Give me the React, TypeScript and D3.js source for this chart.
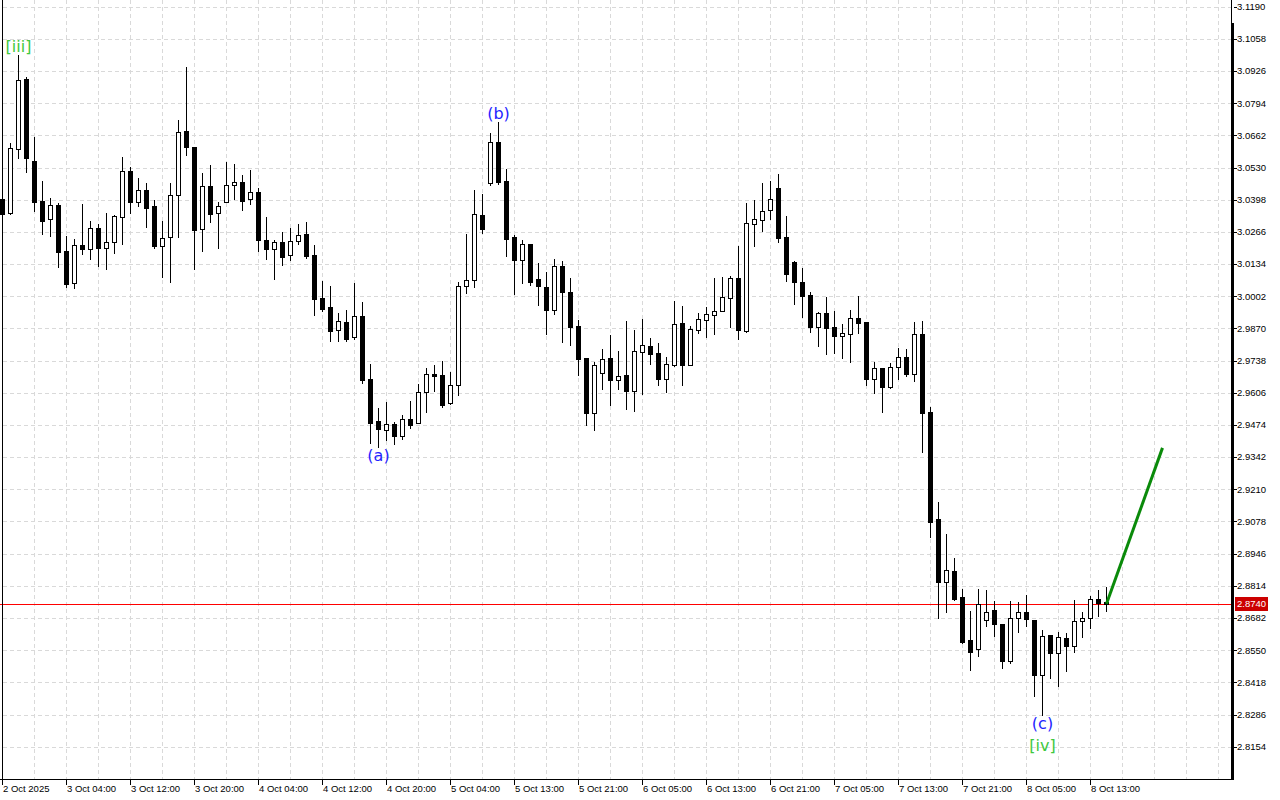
import React, { useEffect } from "react";
import * as d3 from "d3";

// ---------- data (hourly candles, 2 Oct 20:00 -> 8 Oct 15:00) ----------
const opens = [
  3.0401, 3.0343, 3.0606, 3.0893, 3.0557, 3.0392, 3.0319, 3.0376, 3.0187, 3.0056,
  3.0212, 3.0196, 3.0282, 3.0200, 3.0224, 3.0327, 3.0516, 3.0388, 3.0438, 3.0372,
  3.0208, 3.0245, 3.0417, 3.0680, 3.0614, 3.0278, 3.0454, 3.0343, 3.0388, 3.0458,
  3.0470, 3.0401, 3.0429, 3.0232, 3.0196, 3.0224, 3.0171, 3.0228, 3.0257, 3.0171,
  2.9995, 2.9958, 2.9863, 2.9896, 2.9834, 2.9921, 2.9662, 2.9490, 2.9453, 2.9478,
  2.9428, 2.9498, 2.9482, 2.9609, 2.9683, 2.9679, 2.9564, 2.9638, 3.0044, 3.0068,
  3.0335, 3.0466, 3.0635, 3.0475, 3.0245, 3.0150, 3.0216, 3.0072, 3.0040, 2.9945,
  3.0126, 3.0019, 2.9880, 2.9748, 2.9523, 2.9687, 2.9748, 2.9658, 2.9679, 2.9613,
  2.9773, 2.9798, 2.9769, 2.9662, 2.9720, 2.9892, 2.9720, 2.9863, 2.9904, 2.9925,
  2.9941, 2.9995, 3.0077, 2.9859, 3.0298, 3.0314, 3.0356, 3.0446, 3.0245, 3.0142,
  3.0060, 3.0007, 2.9876, 2.9933, 2.9876, 2.9839, 2.9847, 2.9912, 2.9896, 2.9662,
  2.9707, 2.9629, 2.9711, 2.9752, 2.9683, 2.9847, 2.9527, 2.9088, 2.8829, 2.8874,
  2.8768, 2.8591, 2.8554, 2.8673, 2.8714, 2.8657, 2.8505, 2.8682, 2.8706, 2.8673,
  2.8448, 2.8612, 2.8538, 2.8600, 2.8567, 2.8669, 2.8682, 2.8760, 2.8747,
];
const highs = [
  3.0454, 3.0630, 3.0992, 3.0901, 3.0655, 3.0475, 3.0405, 3.0384, 3.0249, 3.0237,
  3.0380, 3.0310, 3.0298, 3.0343, 3.0335, 3.0573, 3.0532, 3.0487, 3.0466, 3.0397,
  3.0310, 3.0466, 3.0725, 3.0942, 3.0614, 3.0507, 3.0540, 3.0388, 3.0552, 3.0544,
  3.0499, 3.0520, 3.0446, 3.0327, 3.0232, 3.0265, 3.0282, 3.0298, 3.0306, 3.0212,
  3.0064, 3.0044, 2.9933, 2.9945, 3.0056, 2.9978, 2.9724, 2.9543, 2.9568, 2.9486,
  2.9514, 2.9572, 2.9642, 2.9707, 2.9720, 2.9736, 2.9691, 3.0060, 3.0257, 3.0438,
  3.0421, 3.0671, 3.0717, 3.0524, 3.0253, 3.0232, 3.0216, 3.0138, 3.0101, 3.0155,
  3.0146, 3.0077, 2.9904, 2.9748, 2.9732, 2.9785, 2.9843, 2.9777, 2.9900, 2.9863,
  2.9908, 2.9830, 2.9810, 2.9752, 2.9982, 2.9962, 2.9880, 2.9933, 2.9958, 3.0077,
  3.0081, 3.0085, 3.0208, 3.0384, 3.0397, 3.0466, 3.0475, 3.0503, 3.0331, 3.0146,
  3.0118, 3.0019, 2.9937, 2.9999, 2.9941, 2.9888, 2.9945, 3.0003, 2.9896, 2.9732,
  2.9707, 2.9728, 2.9789, 2.9785, 2.9896, 2.9900, 2.9547, 2.9158, 2.9026, 2.8928,
  2.8801, 2.8710, 2.8801, 2.8796, 2.8751, 2.8657, 2.8751, 2.8747, 2.8776, 2.8673,
  2.8632, 2.8612, 2.8624, 2.8620, 2.8755, 2.8706, 2.8772, 2.8796, 2.8809,
];
const lows = [
  3.0331, 3.0339, 3.0569, 3.0511, 3.0351, 3.0257, 3.0249, 3.0122, 3.0040, 3.0036,
  3.0175, 3.0155, 3.0126, 3.0113, 3.0179, 3.0216, 3.0343, 3.0372, 3.0286, 3.0200,
  3.0081, 3.0060, 3.0245, 3.0581, 3.0113, 3.0187, 3.0306, 3.0200, 3.0388, 3.0401,
  3.0356, 3.0380, 3.0187, 3.0155, 3.0072, 3.0130, 3.0150, 3.0216, 3.0159, 2.9925,
  2.9941, 2.9818, 2.9818, 2.9818, 2.9826, 2.9646, 2.9400, 2.9383, 2.9412, 2.9395,
  2.9416, 2.9461, 2.9482, 2.9527, 2.9613, 2.9547, 2.9560, 2.9597, 3.0015, 3.0040,
  3.0261, 3.0458, 3.0462, 3.0167, 3.0011, 3.0056, 3.0048, 2.9966, 2.9847, 2.9929,
  2.9814, 2.9802, 2.9679, 2.9473, 2.9453, 2.9621, 2.9555, 2.9621, 2.9539, 2.9531,
  2.9601, 2.9724, 2.9638, 2.9609, 2.9716, 2.9638, 2.9720, 2.9851, 2.9834, 2.9847,
  2.9941, 2.9876, 2.9826, 2.9855, 3.0208, 3.0269, 3.0319, 3.0224, 3.0064, 2.9970,
  2.9917, 2.9855, 2.9798, 2.9765, 2.9769, 2.9748, 2.9732, 2.9851, 2.9638, 2.9605,
  2.9527, 2.9625, 2.9662, 2.9674, 2.9654, 2.9363, 2.9014, 2.8682, 2.8706, 2.8755,
  2.8579, 2.8468, 2.8526, 2.8649, 2.8608, 2.8476, 2.8497, 2.8624, 2.8649, 2.8362,
  2.8284, 2.8435, 2.8403, 2.8464, 2.8542, 2.8604, 2.8641, 2.8690, 2.8710,
];
const closes = [
  3.0339, 3.0610, 3.0889, 3.0569, 3.0388, 3.0310, 3.0376, 3.0183, 3.0052, 3.0212,
  3.0196, 3.0282, 3.0200, 3.0224, 3.0331, 3.0516, 3.0388, 3.0438, 3.0364, 3.0208,
  3.0241, 3.0417, 3.0676, 3.0614, 3.0273, 3.0454, 3.0339, 3.0372, 3.0458, 3.0470,
  3.0392, 3.0429, 3.0232, 3.0196, 3.0224, 3.0163, 3.0228, 3.0253, 3.0167, 2.9990,
  2.9949, 2.9859, 2.9900, 2.9826, 2.9921, 2.9658, 2.9482, 2.9457, 2.9478, 2.9428,
  2.9498, 2.9473, 2.9609, 2.9683, 2.9674, 2.9555, 2.9638, 3.0044, 3.0068, 3.0339,
  3.0278, 3.0635, 3.0470, 3.0237, 3.0150, 3.0216, 3.0060, 3.0044, 2.9945, 3.0126,
  3.0019, 2.9876, 2.9744, 2.9523, 2.9720, 2.9744, 2.9658, 2.9674, 2.9613, 2.9777,
  2.9802, 2.9765, 2.9662, 2.9724, 2.9888, 2.9720, 2.9867, 2.9908, 2.9929, 2.9941,
  2.9999, 3.0077, 2.9863, 3.0302, 3.0319, 3.0351, 3.0401, 3.0241, 3.0093, 3.0060,
  3.0003, 2.9876, 2.9933, 2.9871, 2.9839, 2.9851, 2.9912, 2.9892, 2.9662, 2.9707,
  2.9629, 2.9711, 2.9752, 2.9683, 2.9847, 2.9523, 2.9075, 2.8829, 2.8878, 2.8760,
  2.8583, 2.8542, 2.8739, 2.8706, 2.8657, 2.8505, 2.8682, 2.8706, 2.8677, 2.8448,
  2.8608, 2.8538, 2.8604, 2.8567, 2.8669, 2.8682, 2.8760, 2.8743, 2.8740,
];

const priceTicks = [
  "3.1190", "3.1058", "3.0926", "3.0794", "3.0662", "3.0530", "3.0398", "3.0266",
  "3.0134", "3.0002", "2.9870", "2.9738", "2.9606", "2.9474", "2.9342", "2.9210",
  "2.9078", "2.8946", "2.8814", "2.8682", "2.8550", "2.8418", "2.8286", "2.8154",
];

const timeLabels = [
  "2 Oct 2025", "3 Oct 04:00", "3 Oct 12:00", "3 Oct 20:00", "4 Oct 04:00",
  "4 Oct 12:00", "4 Oct 20:00", "5 Oct 04:00", "5 Oct 13:00", "5 Oct 21:00",
  "6 Oct 05:00", "6 Oct 13:00", "6 Oct 21:00", "7 Oct 05:00", "7 Oct 13:00",
  "7 Oct 21:00", "8 Oct 05:00", "8 Oct 13:00",
];
const timeLabelBars = [0, 8, 16, 24, 32, 40, 48, 56, 64, 72, 80, 88, 96, 104, 112, 120, 128, 136];

const currentPrice = 2.874;
const currentPriceLabel = "2.8740";

const waveLabels = [
  { text: "[iii]", bar: 2, side: "above", level: 0, kind: "minor" },
  { text: "(b)", bar: 62, side: "above", level: 0, kind: "sub" },
  { text: "(a)", bar: 47, side: "below", level: 0, kind: "sub" },
  { text: "(c)", bar: 130, side: "below", level: 0, kind: "sub" },
  { text: "[iv]", bar: 130, side: "below", level: 1, kind: "minor" },
];

const forecastBars = [138, 145];
const forecastPrices = [2.874, 2.938];

// ---------- layout ----------
const W = 1280;
const H = 800;
const PLOT_RIGHT = 1232;
const PLOT_BOTTOM = 779;
const FONT = "'Liberation Sans', Arial, sans-serif";
const LABEL_FONT = "'DejaVu Sans', sans-serif";

export default function App() {
  useEffect(() => {
    document.body.style.margin = "0";
  }, []);

  const x = d3.scaleLinear().domain([0, 1]).range([2.5, 10.5]);
  const y = d3
    .scaleLinear()
    .domain([+priceTicks[priceTicks.length - 1], +priceTicks[0]])
    .range([746.7, 6.7]);
  const py = (p: number) => Math.round(y(p)) + 0.5;

  const n = closes.length;
  const gridBars = d3.range(4, 153, 4);

  const candles = d3.range(n).map((i) => {
    const o = opens[i], h = highs[i], l = lows[i], c = closes[i];
    const cx = x(i);
    const bull = c >= o;
    const top = Math.round(y(Math.max(o, c)));
    const bot = Math.round(y(Math.min(o, c)));
    return (
      <g key={i}>
        <line x1={cx} x2={cx} y1={Math.round(y(h))} y2={Math.round(y(l)) + 1} stroke="#000" strokeWidth={1} />
        {bull ? (
          <rect x={cx - 2} y={top + 0.5} width={4} height={Math.max(0, bot - top)} fill="#fff" stroke="#000" strokeWidth={1} />
        ) : (
          <rect x={cx - 2.5} y={top} width={5} height={Math.max(1, bot - top + 1)} fill="#000" />
        )}
      </g>
    );
  });

  const forecastLine = d3
    .line<number>()
    .x((_, k) => x(forecastBars[k]))
    .y((p) => y(p))(forecastPrices);

  return (
    <svg
      width={W}
      height={H}
      style={{ position: "absolute", left: 0, top: 0, background: "#fff", display: "block" }}
      shapeRendering="crispEdges"
    >
      <rect x={0} y={0} width={W} height={H} fill="#fff" />
      {/* grid */}
      <g stroke="#d9d9d9" strokeWidth={1} strokeDasharray="4,3">
        {priceTicks.map((t) => (
          <line key={t} x1={3} x2={PLOT_RIGHT} y1={py(+t)} y2={py(+t)} />
        ))}
        {gridBars.map((b) => (
          <line key={b} x1={x(b)} x2={x(b)} y1={0} y2={PLOT_BOTTOM} />
        ))}
      </g>
      {/* current price line */}
      <line x1={0} x2={PLOT_RIGHT} y1={py(currentPrice)} y2={py(currentPrice)} stroke="#ff0000" strokeWidth={1} />
      {/* candles */}
      <g>{candles}</g>
      {/* forecast arrow line */}
      <path d={forecastLine || ""} fill="none" stroke="#0a8a0a" strokeWidth={3} shapeRendering="auto" />
      {/* wave labels */}
      <g fontFamily={LABEL_FONT} fontSize={16} textAnchor="middle">
        {waveLabels.map((lb) => {
          const cx = x(lb.bar);
          const yy =
            lb.side === "above"
              ? y(highs[lb.bar]) - 3
              : y(lows[lb.bar]) + 14 + lb.level * 22;
          return (
            <text key={lb.text} x={cx} y={yy} fill={lb.kind === "minor" ? "#3ec83e" : "#2424ff"}>
              {lb.text}
            </text>
          );
        })}
      </g>
      {/* frame */}
      <g fill="#000">
        <rect x={2} y={0} width={1} height={PLOT_BOTTOM + 1} />
        <rect x={0} y={PLOT_BOTTOM} width={PLOT_RIGHT + 2} height={1} />
        <rect x={PLOT_RIGHT - 1} y={0} width={1} height={23} />
        <rect x={PLOT_RIGHT - 1} y={23} width={3} height={PLOT_BOTTOM - 22} />
      </g>
      {/* price axis */}
      <g fontFamily={FONT} fontSize={9.5} fill="#000">
        {priceTicks.map((t) => (
          <g key={t}>
            <line x1={PLOT_RIGHT + 2} x2={PLOT_RIGHT + 5} y1={py(+t)} y2={py(+t)} stroke="#000" />
            <text x={PLOT_RIGHT + 5} y={y(+t)} dy="0.35em">
              {t}
            </text>
          </g>
        ))}
        <rect x={PLOT_RIGHT + 3} y={Math.round(y(currentPrice)) - 7} width={33} height={14} fill="#cc0000" />
        <text x={PLOT_RIGHT + 5} y={y(currentPrice)} dy="0.35em" fill="#fff">
          {currentPriceLabel}
        </text>
      </g>
      {/* time axis */}
      <g fontFamily={FONT} fontSize={9.5} fill="#000">
        {timeLabels.map((t, k) => {
          const tx = x(timeLabelBars[k]);
          return (
            <g key={t}>
              <line x1={tx} x2={tx} y1={PLOT_BOTTOM} y2={PLOT_BOTTOM + 6} stroke="#000" />
              <text x={tx + 0.5} y={792}>
                {t}
              </text>
            </g>
          );
        })}
      </g>
    </svg>
  );
}
